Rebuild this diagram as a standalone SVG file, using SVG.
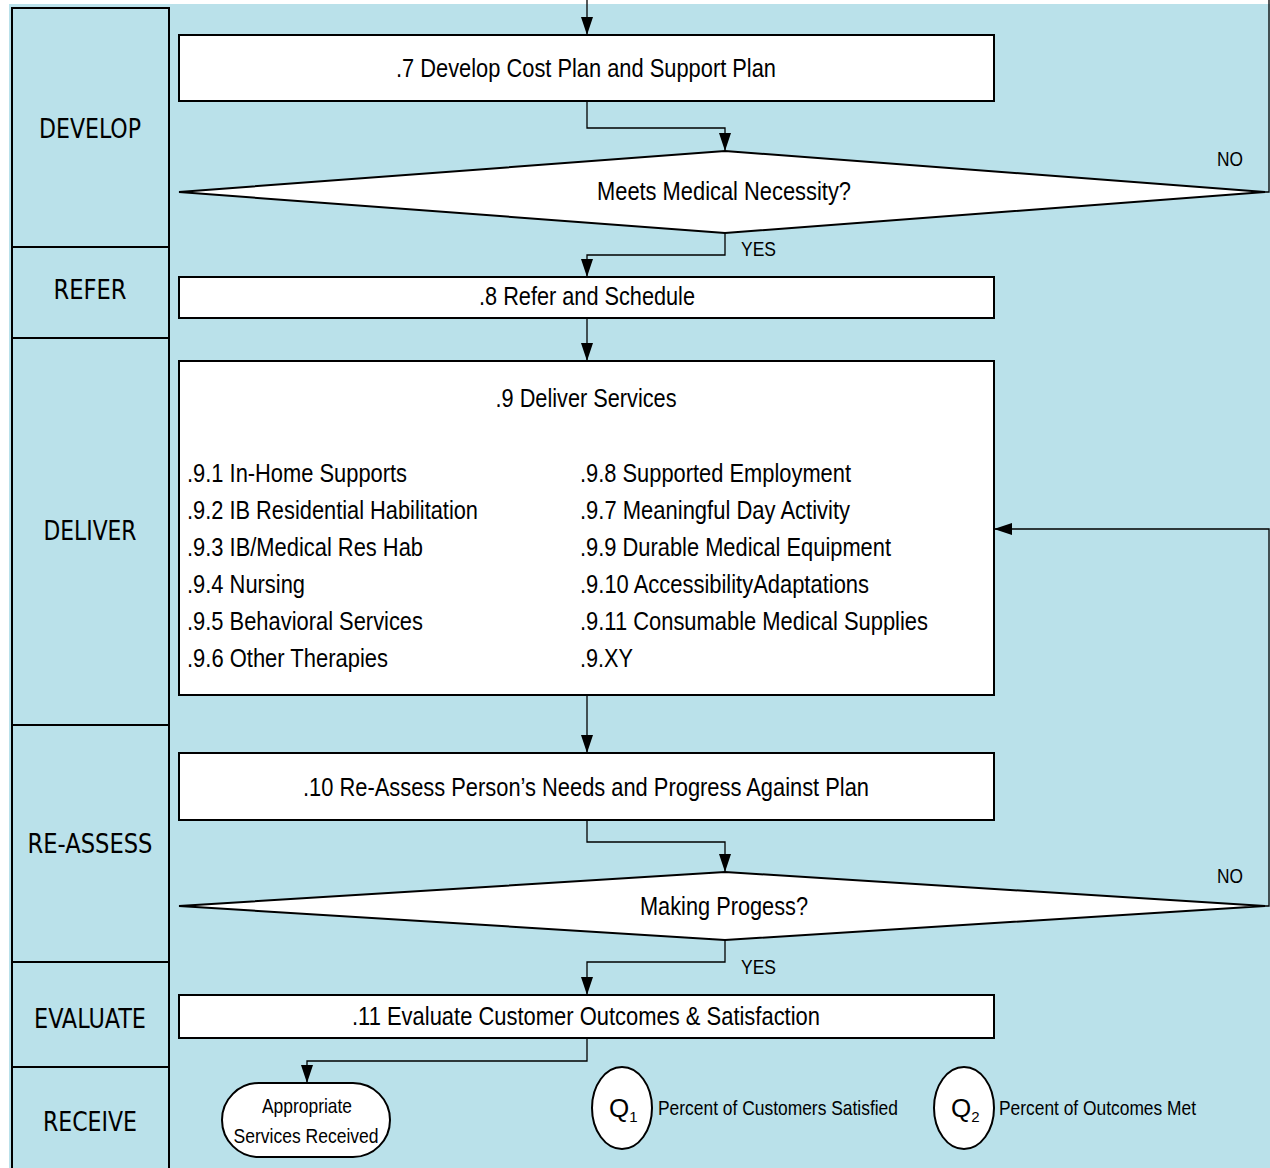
<svg xmlns="http://www.w3.org/2000/svg" width="1270" height="1168" viewBox="0 0 1270 1168">
  <style>
    .bg { fill: #bae1ea; }
    .lane { fill: #bae1ea; stroke: #000; stroke-width: 2; }
    .box { fill: #fff; stroke: #000; stroke-width: 2; }
    .conn { fill: none; stroke: #000; stroke-width: 1.3; }
    .t { font-family: "Liberation Sans Narrow", "Liberation Sans", Arial, sans-serif; font-size: 26px; fill: #000; }
    .c { text-anchor: middle; }
    .lt { font-family: "DejaVu Sans Condensed", "DejaVu Sans", sans-serif; font-stretch: condensed; font-size: 27px; fill: #000; text-anchor: middle; }
    .s { font-size: 21px; }
    .li { font-size: 25px; }
  </style>
  <defs>
    <marker id="arrow" markerUnits="userSpaceOnUse" markerWidth="18" markerHeight="12" refX="18" refY="6" orient="auto">
      <path d="M0,0 L18,6 L0,12 Z" fill="#000"/>
    </marker>
  </defs>

  <!-- page background -->
  <rect x="0" y="0" width="1270" height="1168" fill="#fff"/>
  <rect class="bg" x="9" y="4" width="1261" height="1164"/>

  <!-- swim lanes -->
  <g id="lanes">
    <g id="lane-develop"><rect class="lane" x="12" y="8" width="157" height="239"/><text class="lt" x="90" y="138" textLength="102" lengthAdjust="spacingAndGlyphs">DEVELOP</text></g>
    <g id="lane-refer"><rect class="lane" x="12" y="247" width="157" height="91"/><text class="lt" x="90" y="299" textLength="73" lengthAdjust="spacingAndGlyphs">REFER</text></g>
    <g id="lane-deliver"><rect class="lane" x="12" y="338" width="157" height="387"/><text class="lt" x="90" y="540" textLength="93" lengthAdjust="spacingAndGlyphs">DELIVER</text></g>
    <g id="lane-reassess"><rect class="lane" x="12" y="725" width="157" height="237"/><text class="lt" x="90" y="853" textLength="125" lengthAdjust="spacingAndGlyphs">RE-ASSESS</text></g>
    <g id="lane-evaluate"><rect class="lane" x="12" y="962" width="157" height="105"/><text class="lt" x="90" y="1028" textLength="112" lengthAdjust="spacingAndGlyphs">EVALUATE</text></g>
    <g id="lane-receive"><rect class="lane" x="12" y="1067" width="157" height="110"/><text class="lt" x="90" y="1131" textLength="94" lengthAdjust="spacingAndGlyphs">RECEIVE</text></g>
  </g>

  <!-- connectors -->
  <g id="connectors">
    <path class="conn" d="M587 0 V35" marker-end="url(#arrow)"/>
    <path class="conn" d="M587 101 V128 H725 V151" marker-end="url(#arrow)"/>
    <path class="conn" d="M725 233 V255 H587 V277" marker-end="url(#arrow)"/>
    <path class="conn" d="M1265 192 H1269 V0"/>
    <path class="conn" d="M587 318 V361" marker-end="url(#arrow)"/>
    <path class="conn" d="M587 695 V753" marker-end="url(#arrow)"/>
    <path class="conn" d="M587 820 V842 H725 V872" marker-end="url(#arrow)"/>
    <path class="conn" d="M1265 906 H1269 V529 H994" marker-end="url(#arrow)"/>
    <path class="conn" d="M725 940 V962 H587 V995" marker-end="url(#arrow)"/>
    <path class="conn" d="M587 1038 V1061 H307 V1083" marker-end="url(#arrow)"/>
    <text class="t s" x="741" y="256" textLength="35" lengthAdjust="spacingAndGlyphs">YES</text>
    <text class="t s" x="1217" y="166" textLength="26" lengthAdjust="spacingAndGlyphs">NO</text>
    <text class="t s" x="741" y="974" textLength="35" lengthAdjust="spacingAndGlyphs">YES</text>
    <text class="t s" x="1217" y="883" textLength="26" lengthAdjust="spacingAndGlyphs">NO</text>
  </g>

  <!-- process steps -->
  <g id="step-7">
    <rect class="box" x="179" y="35" width="815" height="66"/>
    <text class="t c" x="586" y="77" textLength="380" lengthAdjust="spacingAndGlyphs">.7 Develop Cost Plan and Support Plan</text>
  </g>
  <g id="decision-necessity">
    <polygon class="box" points="179,192 725,151 1265,192 725,233"/>
    <text class="t c" x="724" y="200" textLength="254" lengthAdjust="spacingAndGlyphs">Meets Medical Necessity?</text>
  </g>
  <g id="step-8">
    <rect class="box" x="179" y="277" width="815" height="41"/>
    <text class="t c" x="587" y="305" textLength="216" lengthAdjust="spacingAndGlyphs">.8 Refer and Schedule</text>
  </g>
  <g id="step-9">
    <rect class="box" x="179" y="361" width="815" height="334"/>
    <text class="t c" x="586" y="407" textLength="181" lengthAdjust="spacingAndGlyphs">.9 Deliver Services</text>
    <text class="t li" x="187" y="482" textLength="220" lengthAdjust="spacingAndGlyphs">.9.1 In-Home Supports</text>
    <text class="t li" x="187" y="519" textLength="291" lengthAdjust="spacingAndGlyphs">.9.2 IB Residential Habilitation</text>
    <text class="t li" x="187" y="556" textLength="236" lengthAdjust="spacingAndGlyphs">.9.3 IB/Medical Res Hab</text>
    <text class="t li" x="187" y="593" textLength="118" lengthAdjust="spacingAndGlyphs">.9.4 Nursing</text>
    <text class="t li" x="187" y="630" textLength="236" lengthAdjust="spacingAndGlyphs">.9.5 Behavioral Services</text>
    <text class="t li" x="187" y="667" textLength="201" lengthAdjust="spacingAndGlyphs">.9.6 Other Therapies</text>
    <text class="t li" x="580" y="482" textLength="271" lengthAdjust="spacingAndGlyphs">.9.8 Supported Employment</text>
    <text class="t li" x="580" y="519" textLength="270" lengthAdjust="spacingAndGlyphs">.9.7 Meaningful Day Activity</text>
    <text class="t li" x="580" y="556" textLength="311" lengthAdjust="spacingAndGlyphs">.9.9 Durable Medical Equipment</text>
    <text class="t li" x="580" y="593" textLength="289" lengthAdjust="spacingAndGlyphs">.9.10 AccessibilityAdaptations</text>
    <text class="t li" x="580" y="630" textLength="348" lengthAdjust="spacingAndGlyphs">.9.11 Consumable Medical Supplies</text>
    <text class="t li" x="580" y="667" textLength="53" lengthAdjust="spacingAndGlyphs">.9.XY</text>
  </g>
  <g id="step-10">
    <rect class="box" x="179" y="753" width="815" height="67"/>
    <text class="t c" x="586" y="796" textLength="566" lengthAdjust="spacingAndGlyphs">.10 Re-Assess Person’s Needs and Progress Against Plan</text>
  </g>
  <g id="decision-progress">
    <polygon class="box" points="179,906 725,872 1265,906 725,940"/>
    <text class="t c" x="724" y="915" textLength="168" lengthAdjust="spacingAndGlyphs">Making Progess?</text>
  </g>
  <g id="step-11">
    <rect class="box" x="179" y="995" width="815" height="43"/>
    <text class="t c" x="586" y="1025" textLength="468" lengthAdjust="spacingAndGlyphs">.11 Evaluate Customer Outcomes &amp; Satisfaction</text>
  </g>
  <g id="end-received">
    <rect class="box" x="222" y="1083" width="168" height="74" rx="37" ry="37" stroke-width="1.5"/>
    <text class="t c s" x="307" y="1113" textLength="90" lengthAdjust="spacingAndGlyphs">Appropriate</text>
    <text class="t c s" x="306" y="1143" textLength="145" lengthAdjust="spacingAndGlyphs">Services Received</text>
  </g>
  <g id="measure-q1">
    <ellipse class="box" cx="622" cy="1108" rx="30" ry="41" stroke-width="1.3"/>
    <text class="t" x="609" y="1117">Q<tspan font-size="15" dy="5">1</tspan></text>
    <text class="t s" x="658" y="1115" textLength="240" lengthAdjust="spacingAndGlyphs">Percent of Customers Satisfied</text>
  </g>
  <g id="measure-q2">
    <ellipse class="box" cx="964" cy="1108" rx="30" ry="41" stroke-width="1.3"/>
    <text class="t" x="951" y="1117">Q<tspan font-size="15" dy="5">2</tspan></text>
    <text class="t s" x="999" y="1115" textLength="197" lengthAdjust="spacingAndGlyphs">Percent of Outcomes Met</text>
  </g>
</svg>
